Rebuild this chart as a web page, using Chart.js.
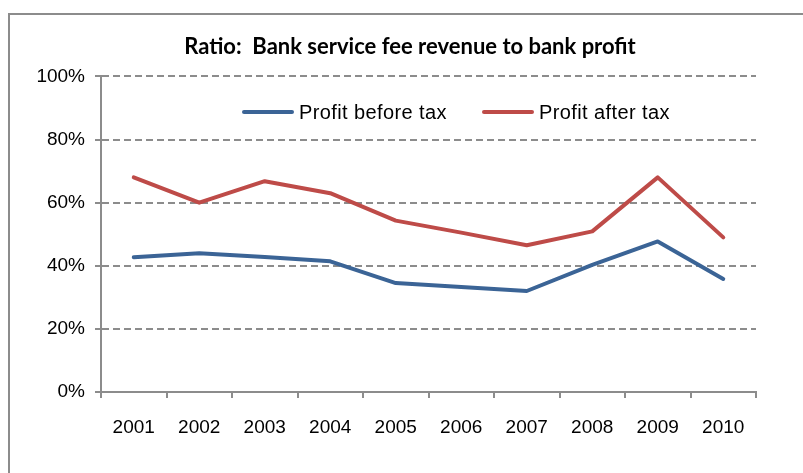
<!DOCTYPE html>
<html>
<head>
<meta charset="utf-8">
<title>Bank service fee revenue to bank profit</title>
<script src="https://cdn.jsdelivr.net/npm/chart.js@4.4.1/dist/chart.umd.min.js"></script>
<style>
  html, body { margin: 0; padding: 0; background: #fff; overflow: hidden; }
  #wrap { position: relative; width: 803px; height: 473px; }
  /* outer frame of the chart, runs off the right and bottom edges */
  #frame {
    position: absolute; left: 8px; top: 13px; width: 830px; height: 500px;
    border-top: 2px solid #8c8c8c; border-left: 2px solid #8c8c8c;
  }
  #chart { position: absolute; left: 0; top: 0; }
  #legend {
    position: absolute; left: 242px; top: 100px; z-index: 2;
    display: flex; align-items: center; gap: 35px;
    font: 20px/24px "Liberation Sans", Arial, sans-serif; letter-spacing: 0.4px; color: #000;
    white-space: nowrap;
  }
  .lg-item { display: flex; align-items: center; }
  .lg-line { display: inline-block; width: 52px; height: 4px; border-radius: 2px; margin-right: 5px; }
</style>
</head>
<body>
<div id="wrap">
  <div id="frame"></div>
  <canvas id="chart" width="803" height="473"></canvas>
  <div id="legend"></div>
</div>
<script>
// ===== DATA =====
const years = ['2001', '2002', '2003', '2004', '2005', '2006', '2007', '2008', '2009', '2010'];
const beforeTax = [42.7, 44.0, 42.8, 41.4, 34.5, 33.3, 32.0, 40.3, 47.7, 35.8];
const afterTax = [68.0, 60.0, 66.8, 63.0, 54.3, 50.5, 46.5, 50.9, 68.0, 49.0];

const GRAY = '#8c8c8c';
const AXIS_FONT = { family: '"Liberation Sans", Arial, sans-serif', size: 19 };

// title is centred over the framed box rather than the canvas
const titleShift = {
    id: 'titleShift',
    afterLayout(chart) {
        const t = chart.titleBlock;
        if (!t) return;
        t.left += 32; t.right += 32;
    }
};

// legend drawn as html inside the plot area
function buildLegend(chart) {
    const box = document.getElementById('legend');
    box.innerHTML = chart.data.datasets.map(ds =>
        `<span class="lg-item"><span class="lg-line" style="background:${ds.borderColor}"></span>${ds.label}</span>`
    ).join('');
}

const chart = new Chart(document.getElementById('chart').getContext('2d'), {
    type: 'line',
    data: {
        labels: years,
        datasets: [
            {
                label: 'Profit before tax',
                data: beforeTax,
                borderColor: '#3b6496',
                backgroundColor: '#3b6496',
                borderWidth: 4,
            },
            {
                label: 'Profit after tax',
                data: afterTax,
                borderColor: '#be4b48',
                backgroundColor: '#be4b48',
                borderWidth: 4,
            }
        ]
    },
    options: {
        responsive: false,
        animation: false,
        layout: { padding: { left: 0, right: 47, top: 0, bottom: 0 } },
        elements: {
            line: { tension: 0, borderJoinStyle: 'round', borderCapStyle: 'round' },
            point: { radius: 0, hoverRadius: 0 }
        },
        plugins: {
            title: {
                display: true,
                text: 'Ratio:  Bank service fee revenue to bank profit',
                color: '#000',
                font: { family: 'Lato, sans-serif', size: 22, weight: 'bold', lineHeight: 1.2 },
                padding: { top: 34, bottom: 16 }
            },
            legend: { display: false },
            tooltip: { enabled: false }
        },
        scales: {
            x: {
                offset: true,
                grid: {
                    offset: true,
                    drawOnChartArea: false,
                    drawTicks: true,
                    tickLength: 6,
                    color: GRAY,
                    lineWidth: 2
                },
                border: { color: GRAY, width: 2 },
                ticks: { color: '#000', font: AXIS_FONT, padding: 18, maxRotation: 0 },
                afterFit(scale) { scale.height = 81; }
            },
            y: {
                min: 0,
                max: 100,
                ticks: {
                    stepSize: 20,
                    color: '#000',
                    font: AXIS_FONT,
                    padding: 10,
                    callback: v => v + '%'
                },
                grid: {
                    color: ctx => ctx.tick && ctx.tick.value === 0 ? 'transparent' : GRAY,
                    tickColor: GRAY,
                    lineWidth: 2,
                    tickLength: 6,
                    tickBorderDash: []
                },
                border: { color: GRAY, width: 2, dash: [7, 4] },
                afterFit(scale) { scale.width = 101; }
            }
        }
    },
    plugins: [titleShift]
});

buildLegend(chart);
</script>
</body>
</html>
